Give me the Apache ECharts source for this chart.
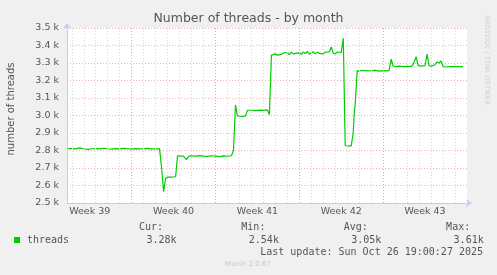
<!DOCTYPE html>
<html><head><meta charset="utf-8">
<script src="https://cdn.jsdelivr.net/npm/echarts@6/dist/echarts.min.js"></script>
<style>html,body{margin:0;padding:0;background:#f0f0f0}#c{width:497px;height:275px}</style>
</head><body><div id="c"></div>
<script>
// x = days since Mon 22 Sep 2025 00:00 (start of ISO week 39)
const days = [
  1.67,2.0,2.33,2.67,3.0,3.33,3.67,4.0,4.33,4.67,5.0,5.33,5.67,6.0,6.33,6.67,7.0,7.33,7.67,8.0,8.33,8.67,9.0,9.33,
  9.5,9.67,9.83,10.0,10.33,10.67,10.83,11.0,11.33,11.58,11.75,12.0,12.33,12.67,13.0,13.33,13.67,14.0,14.33,14.67,15.0,15.33,
  15.5,15.67,15.83,16.0,16.33,16.5,16.67,17.0,17.33,17.67,18.0,18.33,18.5,18.67,
  18.83,19.0,19.17,19.33,19.5,19.67,19.83,20.0,20.17,20.33,20.5,20.67,20.83,21.0,21.17,21.33,21.5,21.67,21.83,22.0,
  22.17,22.33,22.5,22.67,22.83,23.0,23.17,23.33,23.5,23.67,23.83,24.0,24.17,24.33,24.5,24.67,24.83,25.0,25.33,25.5,25.58,25.67,25.83,26.0,
  26.33,26.67,27.0,27.33,27.67,28.0,28.33,28.5,28.67,28.83,29.0,29.33,29.67,30.0,30.33,30.5,30.75,30.92,31.17,31.5,
  31.67,31.83,32.0,32.33,32.5,32.67,32.83,33.0,33.17,33.33,33.67,34.0,34.33,34.67
];
const threads = [
  2811,2812,2809,2815,2810,2806,2810,2811,2809,2813,2810,2808,2811,2809,2812,2810,2808,2811,2809,2810,2812,2808,2810,2809,
  2700,2565,2640,2648,2648,2650,2770,2768,2768,2748,2766,2770,2768,2771,2768,2766,2770,2768,2765,2769,2767,2770,
  2800,3060,2998,2996,2995,2998,3030,3030,3028,3031,3029,3032,3005,3345,
  3350,3352,3345,3356,3349,3358,3350,3360,3348,3362,3352,3355,3364,3358,3350,3362,3354,3366,3350,3358,
  3364,3352,3362,3355,3366,3352,3362,3358,3364,3392,3356,3352,3363,3355,3360,3442,2830,2826,2826,2900,3010,3070,3256,3255,
  3257,3255,3256,3258,3254,3256,3255,3258,3322,3283,3280,3282,3279,3281,3280,3290,3336,3285,3282,3285,
  3351,3283,3282,3290,3306,3300,3312,3280,3277,3281,3280,3279,3280,3279
];
const weekCenters = [3.5, 10.5, 17.5, 24.5, 31.5];
const weekNames = ['Week 39', 'Week 40', 'Week 41', 'Week 42', 'Week 43'];
const weekStarts = [7, 14, 21, 28];
const statHeads = ['Cur:', 'Min:', 'Avg:', 'Max:'];
const statValues = ['3.28k', '2.54k', '3.05k', '3.61k'];
const lastUpdate = 'Last update: Sun Oct 26 19:00:27 2025';

const minorDays = [];
for (let d = 2; d <= 34; d++) if (weekStarts.indexOf(d) < 0) minorDays.push(d);

const chart = echarts.init(document.getElementById('c'), null, {renderer: 'canvas'});
const mono = 'DejaVu Sans Mono';
const sans = 'DejaVu Sans';
const graphics = [];
statHeads.forEach((h, i) => {
  graphics.push({type: 'text', x: 163 + 102.4 * i, y: 227.5, style: {text: h, font: '10px ' + mono, fill: '#555', textAlign: 'right', textVerticalAlign: 'middle'}});
  graphics.push({type: 'text', x: 176.5 + 102.4 * i, y: 240, style: {text: statValues[i], font: '10px ' + mono, fill: '#555', textAlign: 'right', textVerticalAlign: 'middle'}});
});
graphics.push({type: 'text', x: 483, y: 252, style: {text: lastUpdate, font: '10px ' + mono, fill: '#555', textAlign: 'right', textVerticalAlign: 'middle'}});
graphics.push({type: 'text', x: 248, y: 264.5, style: {text: 'Munin 2.0.67', font: '7px ' + sans, fill: '#c8c8c8', textAlign: 'center', textVerticalAlign: 'middle'}});
graphics.push({type: 'text', x: 11, y: 109, rotation: Math.PI / 2, style: {text: 'number of threads', font: '10px ' + sans, fill: '#555', textAlign: 'center', textVerticalAlign: 'middle'}});
graphics.push({type: 'text', x: 487, y: 15, rotation: -Math.PI / 2, style: {text: 'RRDTOOL / TOBI OETIKER', font: '7px ' + sans, fill: '#cfcfcf', textAlign: 'left', textVerticalAlign: 'middle'}});

const option = {
  backgroundColor: '#f0f0f0',
  animation: false,
  title: {text: 'Number of threads - by month', left: 'center', top: 7,
    textStyle: {fontFamily: sans, fontSize: 12.5, fontWeight: 'normal', color: '#555'}},
  grid: {left: 67, top: 28, width: 400, height: 175, show: true, backgroundColor: '#ffffff', borderWidth: 0},
  legend: {data: ['threads'], left: 14, top: 235, padding: 0, icon: 'rect', itemWidth: 6, itemHeight: 6,
    textStyle: {fontFamily: mono, fontSize: 10, color: '#555', padding: [0, 0, 0, 2]}},
  xAxis: {type: 'value', min: 1.6, max: 35,
    axisLine: {show: true, lineStyle: {color: '#c8c8f8', width: 1}, symbol: ['none', 'arrow'], symbolSize: [6, 6], symbolOffset: [0, 5]},
    axisTick: {show: false},
    splitLine: {show: false},
    axisLabel: {customValues: weekCenters, formatter: v => weekNames[weekCenters.indexOf(v)] || '',
      fontFamily: sans, fontSize: 9.5, color: '#555', margin: 4}},
  yAxis: {type: 'value', min: 2500, max: 3500, interval: 100,
    axisLine: {show: true, lineStyle: {color: '#c8c8f8', width: 1}, symbol: ['none', 'arrow'], symbolSize: [6, 6], symbolOffset: [0, 5]},
    axisTick: {show: false},
    splitLine: {show: true, lineStyle: {color: '#e8b4b4', type: [1, 2], width: 1}},
    axisLabel: {formatter: v => (v / 1000).toFixed(1) + ' k', fontFamily: sans, fontSize: 9.5, color: '#555', margin: 8}},
  series: [
    {name: 'grid', type: 'line', data: [], z: 1, silent: true,
      markLine: {silent: true, symbol: ['none', 'none'], label: {show: false}, animation: false,
        data: minorDays.map(d => ({xAxis: d, lineStyle: {color: '#d8d8d8', type: [1, 2], width: 1}}))
          .concat(weekStarts.map(d => ({xAxis: d, lineStyle: {color: '#e8a0a0', type: [1, 2], width: 1}})))}},
    {name: 'threads', type: 'line', z: 3, showSymbol: false, symbol: 'none',
      data: days.map((d, i) => [d, threads[i]]),
      lineStyle: {color: '#00cc00', width: 1.2}, itemStyle: {color: '#00cc00'}}
  ],
  graphic: graphics
};
chart.setOption(option);
</script></body></html>
